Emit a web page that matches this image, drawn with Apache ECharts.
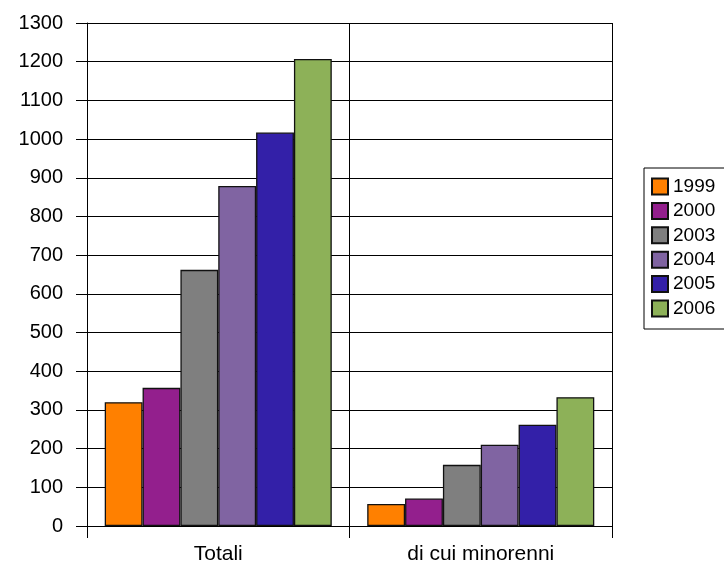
<!DOCTYPE html>
<html>
<head>
<meta charset="utf-8">
<script src="https://cdn.jsdelivr.net/npm/echarts@6/dist/echarts.min.js"></script>
<style>
  html, body { margin: 0; padding: 0; background: #fff; }
  #chart { width: 724px; height: 568px; }
</style>
</head>
<body>
<div id="chart"></div>
<script>
// Categories on the x axis
const categories = ['Totali', 'di cui minorenni'];

// One series per year
const years = ['1999', '2000', '2003', '2004', '2005', '2006'];
const values1999 = [320, 57];
const values2000 = [357, 71];
const values2003 = [662, 158];
const values2004 = [879, 210];
const values2005 = [1017, 262];
const values2006 = [1207, 333];

const seriesValues = [values1999, values2000, values2003, values2004, values2005, values2006];
const colors = ['#FF8000', '#931F8D', '#7F7F7F', '#8064A2', '#3320A8', '#8DB158'];

const font = 'Liberation Sans, Arial, sans-serif';

const chart = echarts.init(document.getElementById('chart'), null, { renderer: 'canvas' });

chart.setOption({
  animation: false,
  backgroundColor: '#ffffff',
  grid: { left: 87, right: 112, top: 23, bottom: 42, containLabel: false },
  legend: {
    orient: 'vertical',
    left: 644,
    top: 168,
    padding: [9, 40, 11, 7],
    itemWidth: 16,
    itemHeight: 16,
    itemGap: 5.4,
    borderColor: '#000',
    borderWidth: 1,
    icon: 'rect',
    textStyle: { fontFamily: font, fontSize: 19, color: '#000', lineHeight: 18 },
    data: years
  },
  xAxis: {
    type: 'category',
    data: categories,
    axisLine: { show: true, lineStyle: { color: '#000', width: 1 } },
    axisTick: { show: true, length: 12, lineStyle: { color: '#000', width: 1 } },
    splitLine: { show: true, lineStyle: { color: '#000', width: 1 } },
    axisLabel: { fontFamily: font, fontSize: 21, color: '#000', margin: 18 }
  },
  yAxis: {
    type: 'value',
    min: 0,
    max: 1300,
    interval: 100,
    axisLine: { show: true, lineStyle: { color: '#000', width: 1 } },
    axisTick: { show: true, length: 11, lineStyle: { color: '#000', width: 1 } },
    splitLine: { show: true, lineStyle: { color: '#000', width: 1.2 } },
    axisLabel: {
      fontFamily: font, fontSize: 20, color: '#000', margin: 24,
      formatter: v => String(v)
    }
  },
  series: years.map((y, i) => ({
    name: y,
    type: 'bar',
    data: seriesValues[i],
    barGap: '0%',
    barCategoryGap: '13.5%',
    itemStyle: { color: colors[i], borderColor: '#111', borderWidth: 1.3 }
  }))
});
</script>
</body>
</html>
